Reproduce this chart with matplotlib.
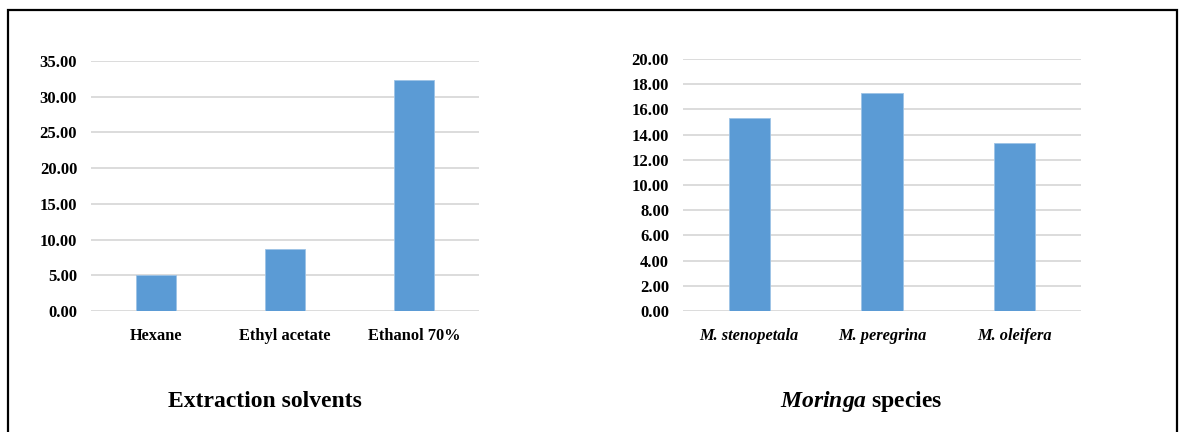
import matplotlib.pyplot as plt
from matplotlib.patches import Rectangle

# Yield per solvent and per species
solvents = ["Hexane", "Ethyl acetate", "Ethanol 70%"]
solvent_values = [5.0, 8.7, 32.3]

species = ["M. stenopetala", "M. peregrina", "M. oleifera"]
species_values = [15.3, 17.3, 13.3]

left_ticks = [0, 5, 10, 15, 20, 25, 30, 35]
right_ticks = [0, 2, 4, 6, 8, 10, 12, 14, 16, 18, 20]

plt.rcParams['font.family'] = ['Liberation Serif', 'DejaVu Serif']
plt.rcParams['mathtext.fontset'] = 'custom'
plt.rcParams['mathtext.it'] = 'Liberation Serif:italic:bold'
plt.rcParams['mathtext.rm'] = 'Liberation Serif:bold'

BAR = '#5b9bd5'
GRID = '#d9d9d9'

fig = plt.figure(figsize=(11.79, 4.32), dpi=100)


def style_axes(ax, ticks, ymax, labels, italic=False):
    ax.set_ylim(0, ymax)
    ax.set_xlim(-0.5, len(labels) - 0.5)
    ax.set_yticks(ticks)
    ax.set_yticklabels([f"{t:.2f}" for t in ticks], fontsize=12, fontweight='bold')
    ax.set_xticks(range(len(labels)))
    ax.set_xticklabels(labels, fontsize=11.8, fontweight='bold',
                       fontstyle='italic' if italic else 'normal')
    ax.tick_params(axis='both', length=0)
    ax.tick_params(axis='y', pad=10)
    ax.tick_params(axis='x', pad=12)
    for s in ax.spines.values():
        s.set_visible(False)
    ax.yaxis.grid(True, color=GRID, linewidth=1.3)
    ax.set_axisbelow(True)


ax1 = fig.add_axes([0.0772, 0.2801, 0.3291, 0.5787])
ax1.bar(range(len(solvents)), solvent_values, width=0.31, color=BAR,
        edgecolor='#9dc3e6', linewidth=0.6)
style_axes(ax1, left_ticks, 35, solvents)

ax2 = fig.add_axes([0.5793, 0.2801, 0.3376, 0.5833])
ax2.bar(range(len(species)), species_values, width=0.31, color=BAR,
        edgecolor='#9dc3e6', linewidth=0.6)
style_axes(ax2, right_ticks, 20, species, italic=True)

fig.text(265 / 1179, 0.07, "Extraction solvents", ha='center', va='center',
         fontsize=17, fontweight='bold')
fig.text(861 / 1179, 0.07, r"$Moringa$ species", ha='center', va='center',
         fontsize=17, fontweight='bold')

# frame around both panels, open at the bottom
fig.add_artist(Rectangle((0.0068, -0.1), 0.9915, 1.077, transform=fig.transFigure,
                         fill=False, edgecolor='black', linewidth=1.6))

fig.savefig('out.png', dpi=100)
